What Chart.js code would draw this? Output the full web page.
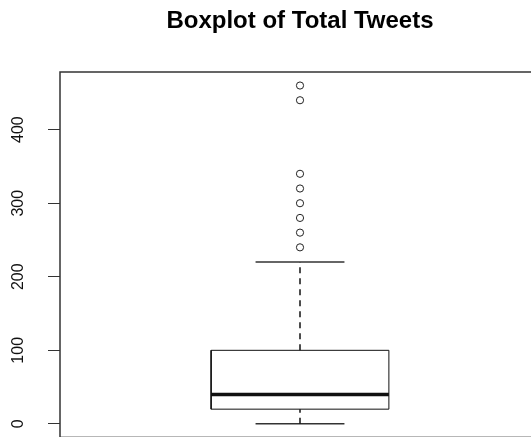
<!DOCTYPE html>
<html>
<head>
<meta charset="utf-8">
<script src="https://cdn.jsdelivr.net/npm/chart.js@4.4.0/dist/chart.umd.min.js"></script>
<style>
  html, body { margin: 0; padding: 0; background: #fff; overflow: hidden; }
  canvas { display: block; }
</style>
</head>
<body>
<canvas id="boxplot" width="545" height="463"></canvas>
<script>
// values
var categories = ['Total Tweets'];
var boxStats = [0, 20, 40, 100, 220];   // lower whisker, Q1, median, Q3, upper whisker
var outliers = [240, 260, 280, 300, 320, 340, 440, 460];
var yTicks = [0, 100, 200, 300, 400];

var ink = '#111';
var boxHalf = 0.2, stapleHalf = 0.1;

// R pads the data range by 4% on each side
var dataLo = Math.min.apply(null, boxStats.concat(outliers));
var dataHi = Math.max.apply(null, boxStats.concat(outliers));
var yMin = dataLo - 0.04 * (dataHi - dataLo);
var yMax = dataHi + 0.04 * (dataHi - dataLo);

function seg(points, extra) {
  return Object.assign({
    data: points,
    showLine: true,
    pointRadius: 0,
    borderColor: ink,
    borderWidth: 1,
    fill: false
  }, extra || {});
}

var datasets = [];
categories.forEach(function (name, i) {
  var x = i + 1;
  var lo = boxStats[0], q1 = boxStats[1], med = boxStats[2], q3 = boxStats[3], hi = boxStats[4];

  // whiskers
  datasets.push(seg([{x: x, y: q3}, {x: x, y: hi}], {borderDash: [6, 5], borderWidth: 1.5}));
  datasets.push(seg([{x: x, y: lo}, {x: x, y: q1}], {borderDash: [6, 5], borderWidth: 1.5}));
  // staples
  datasets.push(seg([{x: x - stapleHalf, y: hi}, {x: x + stapleHalf, y: hi}], {borderWidth: 1.5, borderColor: '#333'}));
  datasets.push(seg([{x: x - stapleHalf, y: lo}, {x: x + stapleHalf, y: lo}], {borderWidth: 1.5, borderColor: '#333'}));
  // box
  datasets.push(seg([
    {x: x - boxHalf, y: q1}, {x: x + boxHalf, y: q1},
    {x: x + boxHalf, y: q3}, {x: x - boxHalf, y: q3},
    {x: x - boxHalf, y: q1}
  ], {backgroundColor: '#fff', fill: true}));
  // median
  datasets.push(seg([{x: x - boxHalf, y: med}, {x: x + boxHalf, y: med}], {borderWidth: 3.5, borderCapStyle: 'butt'}));
  // outliers
  datasets.push({
    data: outliers.map(function (v) { return {x: x, y: v}; }),
    showLine: false,
    pointStyle: 'circle',
    pointRadius: 3.6,
    pointBorderWidth: 1,
    pointBorderColor: '#222',
    pointBackgroundColor: 'rgba(0,0,0,0)'
  });
});

var framePlugin = {
  id: 'frame',
  afterDatasetsDraw: function (chart) {
    var a = chart.chartArea, ctx = chart.ctx;
    ctx.save();
    ctx.strokeStyle = '#333';
    ctx.lineWidth = 1.5;
    ctx.strokeRect(a.left, a.top, a.right - a.left, a.bottom - a.top);
    ctx.restore();
  }
};

new Chart(document.getElementById('boxplot').getContext('2d'), {
  type: 'scatter',
  data: { datasets: datasets },
  plugins: [framePlugin],
  options: {
    responsive: false,
    animation: false,
    devicePixelRatio: 1,
    events: [],
    layout: { padding: { left: 0, right: 5, top: 0, bottom: 0 } },
    plugins: {
      legend: { display: false },
      tooltip: { enabled: false },
      title: {
        display: true,
        fullSize: false,
        text: 'Boxplot of Total Tweets',
        color: '#000',
        font: { family: '"Liberation Sans", Arial, sans-serif', size: 24, weight: 'bold' },
        padding: { top: 7, bottom: 36.2 }
      }
    },
    scales: {
      x: {
        type: 'linear',
        min: 0.46,
        max: 1.54,
        display: false
      },
      y: {
        type: 'linear',
        min: yMin,
        max: yMax,
        afterBuildTicks: function (scale) {
          scale.ticks = yTicks.map(function (v) { return {value: v}; });
        },
        afterFit: function (scale) {
          scale.width = 60;
        },
        border: { display: false },
        grid: {
          display: true,
          drawOnChartArea: false,
          drawTicks: true,
          tickLength: 12,
          tickColor: '#333',
          tickWidth: 1
        },
        ticks: {
          minRotation: 90,
          maxRotation: 90,
          crossAlign: 'center',
          padding: 16,
          color: '#111',
          font: { family: '"Liberation Sans", Arial, sans-serif', size: 16 },
          callback: function (v) { return v; }
        }
      }
    }
  }
});
</script>
</body>
</html>
